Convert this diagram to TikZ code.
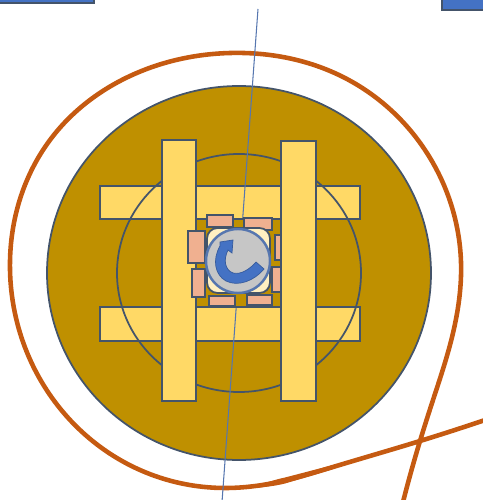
\documentclass[tikz,border=0pt]{standalone}
\usepackage{amsmath,amssymb}
\usetikzlibrary{calc,arrows.meta,hobby}
\definecolor{goldfill}{HTML}{BF9000}
\definecolor{barfill}{HTML}{FFD966}
\definecolor{brickfill}{HTML}{F0B090}
\definecolor{ringcol}{HTML}{C55A11}
\definecolor{edgecol}{HTML}{44546A}
\definecolor{shaftcol}{HTML}{4472C4}
\tikzset{
  bar/.style={draw=edgecol,fill=barfill,line width=1.6pt},
  brick/.style={draw=edgecol,fill=brickfill,line width=1.5pt},
  ring/.style={draw=ringcol,line width=2.6pt},
}
\begin{document}
\begin{tikzpicture}[x=0.02cm,y=-0.02cm]
        \useasboundingbox (0,0) rectangle (483,500);
        % centre of the discs
        \coordinate (O) at (239,273);
        \coordinate (H) at (238,261); % hub

        % blue tabs on the top edge
        \draw[draw=edgecol,fill=shaftcol,line width=1pt] (-2,-2) rectangle (94,3);
        \draw[draw=edgecol,fill=shaftcol,line width=1pt] (442,-2) rectangle (485,10);

        % outer spiral
        \coordinate (S1) at (485,420);
        \coordinate (S2) at (420,441);
        \coordinate (S3) at (333,467);
        \coordinate (S4) at (283,481);
        \coordinate (S5) at (225,488);
        \coordinate (S6) at (140,470);
        \coordinate (S7) at (50,395);
        \coordinate (S8) at (10,270);
        \coordinate (S9) at (50,140);
        \coordinate (S10) at (130,76);
        \coordinate (S11) at (230,53);
        \coordinate (S12) at (345,78);
        \coordinate (S13) at (425,150);
        \coordinate (S14) at (461,262);
        \coordinate (S15) at (450,345);
        \coordinate (S16) at (433,400);
        \coordinate (S17) at (420,441);
        \coordinate (S18) at (403,502);
        \draw[ring,use Hobby shortcut] (S1) .. (S2) .. (S3) .. (S4) .. (S5) .. (S6) .. (S7) .. (S8) .. (S9) .. (S10) .. (S11) .. (S12) .. (S13) .. (S14) .. (S15) .. (S16) .. (S17) .. (S18);
        \fill[ringcol] (255,485) .. controls (265,483.5) and (275,479.5) .. (285,477.5)
          -- (335,464.5) -- (335,468.5) -- (285,483.5) .. controls (275,486) and (265,487) .. (255,488) -- cycle; % thick part

        \filldraw[draw=edgecol,fill=goldfill,line width=1pt] (O) ellipse (192 and 187);

        % horizontal bars
        \draw[bar] (100,186) rectangle (360,219);
        \draw[bar] (100,307) rectangle (360,341);

        \draw[edgecol,line width=1pt] (O) ellipse (122 and 119);

        % thin axis
        \coordinate (T) at (258,9);
        \coordinate (B) at (222,502);
        \draw[shaftcol!70!gray,line width=0.6pt] (T) -- (B);

        % centre block
        \draw[bar,fill=goldfill] (196,219) rectangle (281,307);
        \draw[brick] (207,215) rectangle (233,227);
        \draw[brick] (244,218) rectangle (272,230);
        \draw[brick] (209,296) rectangle (235,306);
        \draw[brick] (247,295) rectangle (272,305);
        \draw[brick] (275,235) rectangle (290,260);
        \draw[brick] (272,267) rectangle (290,292);

        % vertical bars
        \draw[bar] (162,140) rectangle (196,401);
        \draw[bar] (281,141) rectangle (316,401);

        \draw[brick] (188,231) rectangle (205,263);
        \draw[brick] (192,269) rectangle (205,297);

        % hub
        \draw[draw=edgecol,fill=barfill!40!white,line width=1pt,rounded corners=6pt] (207,228) rectangle (270,293);
        \filldraw[draw=shaftcol!70!gray,fill=gray!45,line width=1.4pt] (H) circle (32);
        \draw[draw=shaftcol!80!black,fill=shaftcol,line width=0.4pt]
          (264,269) .. controls (254,281) and (238,287) .. (226,281)
          .. controls (215,275) and (212,260) .. (220,246)
          -- (220,242) -- (233,240) -- (232,253) -- (228,250)
          .. controls (223,260) and (225,270) .. (233,273)
          .. controls (241,275) and (250,269) .. (256,262) -- cycle;
\end{tikzpicture}
\end{document}
